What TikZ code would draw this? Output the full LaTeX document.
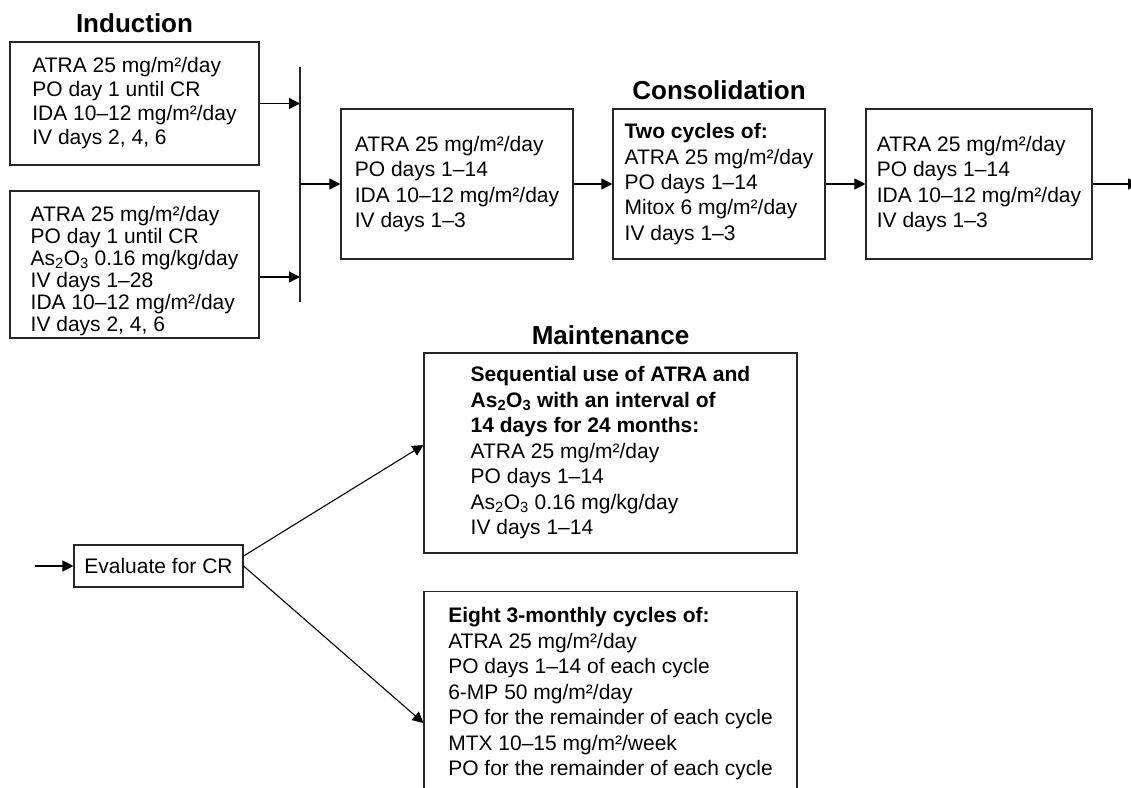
\documentclass[tikz,border=0pt]{standalone}
\usepackage{fontspec}
\setmainfont{Liberation Sans}
\usepackage{tikz}
\usetikzlibrary{arrows.meta,calc,positioning}
\newcommand{\AsO}{As\textsubscript{2}O\textsubscript{3}}

\begin{document}
\begin{tikzpicture}[x=1pt,y=-1pt,
  box/.style={draw=black!85,line width=1.1pt,align=left,inner sep=0pt,font=\fontsize{21}{23.5}\selectfont},
  lsp/.style={font=\fontsize{21}{#1}\selectfont},
  ttl/.style={font=\fontsize{26}{28}\selectfont\bfseries,inner sep=0pt},
  arr/.style={line width=1.1pt,-{Triangle[length=11pt,width=11pt]}}]
  \useasboundingbox (0,0) rectangle (1131,787);
  % induction, two arms joined by a bar
  \node[box,lsp=24,minimum width=249pt,minimum height=123pt] (i1) at (134.5,103.5) {ATRA 25 mg/m²/day\\PO day 1 until CR\\IDA 10–12 mg/m²/day\\IV days 2, 4, 6};
  \node[box,lsp=22,text height=137.4pt,minimum width=249pt,minimum height=147pt] (i2) at (134.5,264.5) {ATRA 25 mg/m²/day\\PO day 1 until CR\\\AsO{} 0.16 mg/kg/day\\IV days 1–28\\IDA 10–12 mg/m²/day\\IV days 2, 4, 6};
  \node[ttl,above=8pt of i1] (tind) {Induction};
  \coordinate (bt) at (300,67);
  \coordinate (bb) at (300,302);
  \coordinate (i2out) at ([yshift=-12.5pt]i2.east);
  \draw[line width=1.1pt,black!85] (bt) -- (bb);
  \draw[arr] (i1.east) -- (i1.east -| bt);
  \draw[arr] (i2out) -- (i2out -| bt);
  % consolidation chain
  \node[box,lsp=25.3,minimum width=232pt,minimum height=150pt] (c1) at (457,184) {ATRA 25 mg/m²/day\\PO days 1–14\\IDA 10–12 mg/m²/day\\IV days 1–3};
  \node[box,lsp=25.3,minimum width=212pt,minimum height=150pt] (c2) at (719,184) {\textbf{Two cycles of:}\\ATRA 25 mg/m²/day\\PO days 1–14\\Mitox 6 mg/m²/day\\IV days 1–3};
  \node[box,lsp=25.3,minimum width=226pt,minimum height=150pt] (c3) at (979,184) {ATRA 25 mg/m²/day\\PO days 1–14\\IDA 10–12 mg/m²/day\\IV days 1–3};
  \node[ttl,above=8pt of c2] (tcons) {Consolidation};
  \coordinate (out) at (1139,184);
  \draw[arr] (c1.west -| bt) -- (c1.west);
  \foreach \a/\b in {c1/c2,c2/c3,c3/out} \draw[arr] (\a) -- (\b);
  % maintenance
  \node[box,minimum width=169pt,minimum height=42pt] (ev) at (158.5,566) {Evaluate for CR};
  \node[box,lsp=25.5,minimum width=373pt,minimum height=200pt] (m1) at (610.5,453) {\textbf{Sequential use of ATRA and}\\\textbf{\AsO{} with an interval of}\\\textbf{14 days for 24 months:}\\ATRA 25 mg/m²/day\\PO days 1–14\\\AsO{} 0.16 mg/kg/day\\IV days 1–14};
  \node[box,lsp=25.5,anchor=north,minimum width=373pt,inner ysep=16pt,text depth=40pt] (m2) at (610.5,591) {\textbf{Eight 3-monthly cycles of:}\\ATRA 25 mg/m²/day\\PO days 1–14 of each cycle\\6-MP 50 mg/m²/day\\PO for the remainder of each cycle\\MTX 10–15 mg/m²/week\\PO for the remainder of each cycle};
  \node[ttl,above=8pt of m1] (tmain) {Maintenance};
  \coordinate (evin) at (35,566);
  \draw[arr] (evin) -- (ev);
  \draw[arr] ([yshift=10pt]ev.east) -- ([yshift=8pt]m1.west);
  \draw[arr] (ev.east) -- ($(m2.north west)+(0,132)$);
\end{tikzpicture}
\end{document}
